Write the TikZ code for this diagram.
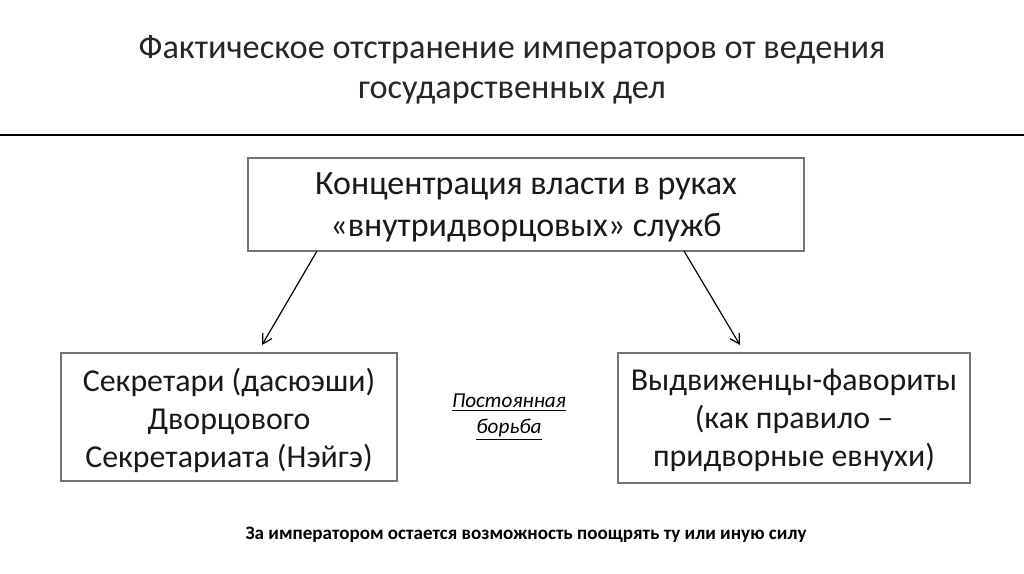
\documentclass[tikz,border=0pt]{standalone}
\usepackage{fontspec}
\setmainfont{Carlito}
\usetikzlibrary{arrows.meta}
\begin{document}
\begin{tikzpicture}[x=0.75pt,y=-0.75pt,
  box/.style={draw=black!55, line width=1.4pt, inner sep=0pt, align=center, text=black!90},
  arr/.style={-{Straight Barb[length=7pt,width=8pt]}, line width=0.9pt}]
\useasboundingbox (0,0) rectangle (1024,574);
\node[align=center, font=\fontsize{25.7}{30}\selectfont, text=black!85] (title) at (512,69.5)
  {Фактическое отстранение императоров от ведения\\государственных дел};
\coordinate (hl) at (0,135);
\coordinate (hr) at (1024,135);
\draw[line width=2.2pt] (hl) -- (hr);
\node[box, minimum width=556*0.75pt, minimum height=93*0.75pt] (top) at (526,204.5) {};
\node[align=center, text=black!90, font=\fontsize{25.5}{31.5}\selectfont] (toptext) at (526,207.5)
  {Концентрация власти в руках\\«внутридворцовых» служб};
\node[box, minimum width=336*0.75pt, minimum height=128*0.75pt] (left) at (229,417) {};
\node[align=center, text=black!90, font=\fontsize{23.9}{28.5}\selectfont] (lefttext) at (229,420)
  {Секретари (дасюэши)\\Дворцового\\Секретариата (Нэйгэ)};
\node[box, minimum width=352*0.75pt, minimum height=130*0.75pt] (right) at (794,418) {};
\node[align=center, text=black!90, font=\fontsize{23.9}{28.5}\selectfont] (righttext) at (794,420)
  {Выдвиженцы-фавориты\\(как правило –\\придворные евнухи)};
\node[align=center, font=\itshape\fontsize{15.9}{19.5}\selectfont] (mid) at (509,417)
  {\underline{Постоянная}\\\underline{борьба}};
\node[font=\bfseries\fontsize{14.3}{16}\selectfont] (bottom) at (526,535)
  {За императором остается возможность поощрять ту или иную силу};
\coordinate (la1) at (317,251);
\coordinate (la2) at (262,345);
\coordinate (ra1) at (684,251);
\coordinate (ra2) at (740,345);
\draw[arr] (la1) -- (la2);
\draw[arr] (ra1) -- (ra2);
\end{tikzpicture}
\end{document}
